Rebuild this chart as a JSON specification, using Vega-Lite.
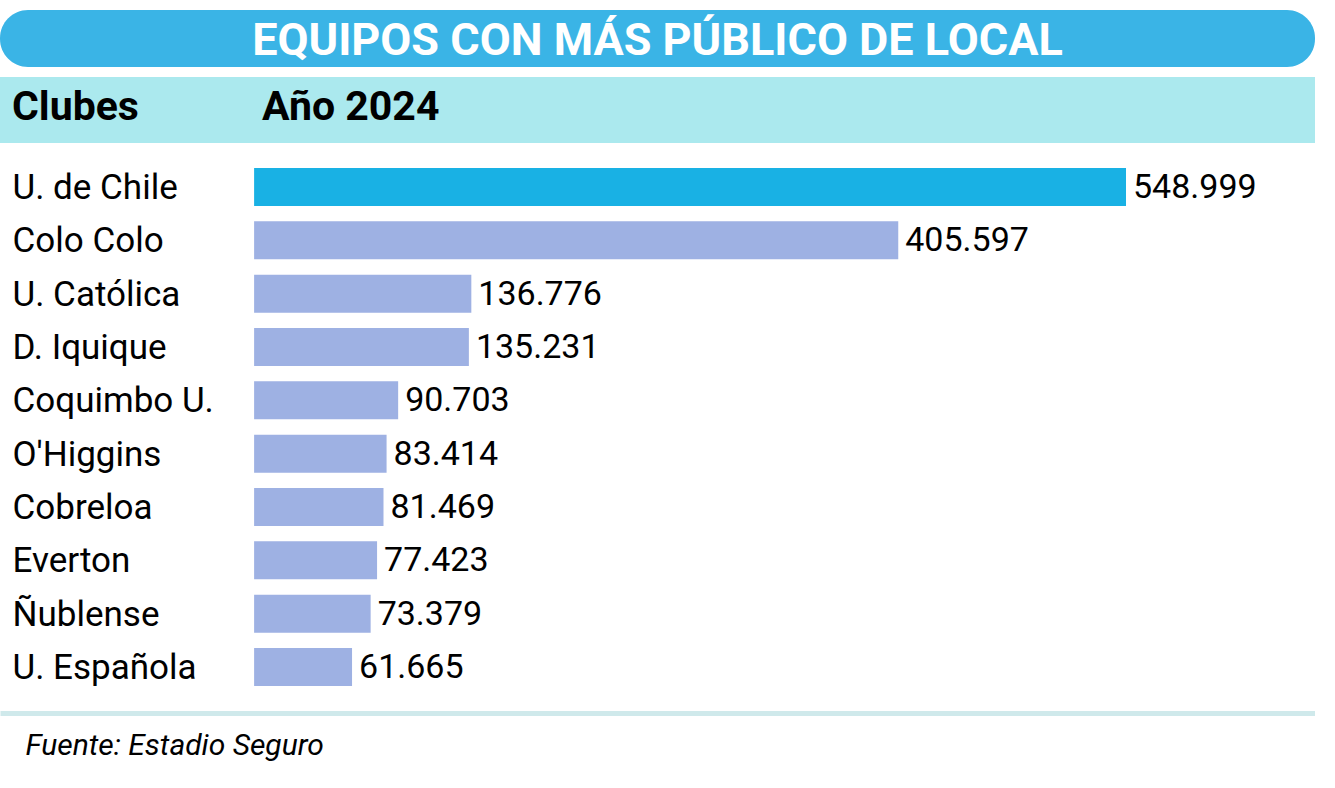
{
  "$schema": "https://vega.github.io/schema/vega-lite/v6.json",
  "background": "#ffffff",
  "padding": {"left": 0, "top": 10, "right": 0, "bottom": 30},
  "spacing": 10,
  "config": {
    "view": {"stroke": null},
    "font": "Roboto",
    "locale": {"number": {"decimal": ",", "thousands": ".", "grouping": [3], "currency": ["$", ""]}}
  },
  "vconcat": [
    {
      "width": 1315,
      "height": 57,
      "view": {"fill": "#3ab4e6", "cornerRadius": 28, "stroke": null},
      "data": {"values": [{"titulo": "EQUIPOS CON MÁS PÚBLICO DE LOCAL"}]},
      "mark": {"type": "text", "font": "Roboto", "fontSize": 45, "fontWeight": "bold", "color": "#ffffff", "baseline": "middle", "align": "center", "dy": 2},
      "encoding": {"text": {"field": "titulo", "type": "nominal"}}
    },
    {
      "width": 1315,
      "height": 66,
      "view": {"fill": "#abe9ee", "stroke": null},
      "layer": [
        {
          "data": {"values": [{"encabezado": "Clubes"}]},
          "mark": {"type": "text", "font": "Roboto", "fontSize": 41, "fontWeight": "bold", "color": "#000000", "align": "left", "baseline": "middle", "dx": 12, "dy": -2},
          "encoding": {
            "x": {"datum": -160000, "type": "quantitative", "scale": {"domain": [-160000, 668000], "nice": false, "zero": false}, "axis": null},
            "text": {"field": "encabezado", "type": "nominal"}
          }
        },
        {
          "data": {"values": [{"encabezado": "Año 2024"}]},
          "mark": {"type": "text", "font": "Roboto", "fontSize": 41, "fontWeight": "bold", "color": "#000000", "align": "left", "baseline": "middle", "dx": 8, "dy": -2},
          "encoding": {
            "x": {"datum": 0, "type": "quantitative", "scale": {"domain": [-160000, 668000], "nice": false, "zero": false}, "axis": null},
            "text": {"field": "encabezado", "type": "nominal"}
          }
        }
      ]
    },
    {
      "width": 1315,
      "height": 548,
      "data": {"values": [
        {"club": "U. de Chile", "publico": 548999},
        {"club": "Colo Colo", "publico": 405597},
        {"club": "U. Católica", "publico": 136776},
        {"club": "D. Iquique", "publico": 135231},
        {"club": "Coquimbo U.", "publico": 90703},
        {"club": "O'Higgins", "publico": 83414},
        {"club": "Cobreloa", "publico": 81469},
        {"club": "Everton", "publico": 77423},
        {"club": "Ñublense", "publico": 73379},
        {"club": "U. Española", "publico": 61665}
      ]},
      "encoding": {
        "y": {
          "field": "club", "type": "nominal", "sort": null,
          "scale": {"paddingInner": 0.2875, "paddingOuter": 0.28},
          "axis": {"title": null, "domain": false, "ticks": false, "tickSize": 0, "labelAlign": "left", "labelPadding": -12, "labelFontSize": 35, "labelColor": "#000000", "labelFont": "Roboto", "labelBaseline": "middle", "labelLimit": 0, "labelOffset": 1}
        },
        "x": {
          "field": "publico", "type": "quantitative",
          "scale": {"domain": [-160000, 668000], "nice": false, "zero": false},
          "axis": {"title": "Fuente: Estadio Seguro", "labels": false, "ticks": false, "grid": false, "domain": true, "domainColor": "#cfe9eb", "domainWidth": 5, "offset": 12,
                   "titleFont": "Roboto", "titleFontStyle": "italic", "titleFontWeight": "normal", "titleFontSize": 30, "titleColor": "#000000",
                   "titleAnchor": "start", "titleAlign": "left", "titleBaseline": "middle", "titleX": 25, "titleY": 32}
        }
      },
      "layer": [
        {
          "mark": {"type": "bar"},
          "encoding": {
            "x2": {"datum": 0},
            "color": {"condition": {"test": "datum.club === 'U. de Chile'", "value": "#19b1e4"}, "value": "#9eb1e3"}
          }
        },
        {
          "mark": {"type": "text", "align": "left", "baseline": "middle", "dx": 7, "dy": 1, "fontSize": 34, "color": "#000000", "font": "Roboto"},
          "encoding": {"text": {"field": "publico", "type": "quantitative", "format": ",d"}}
        }
      ]
    }
  ]
}
